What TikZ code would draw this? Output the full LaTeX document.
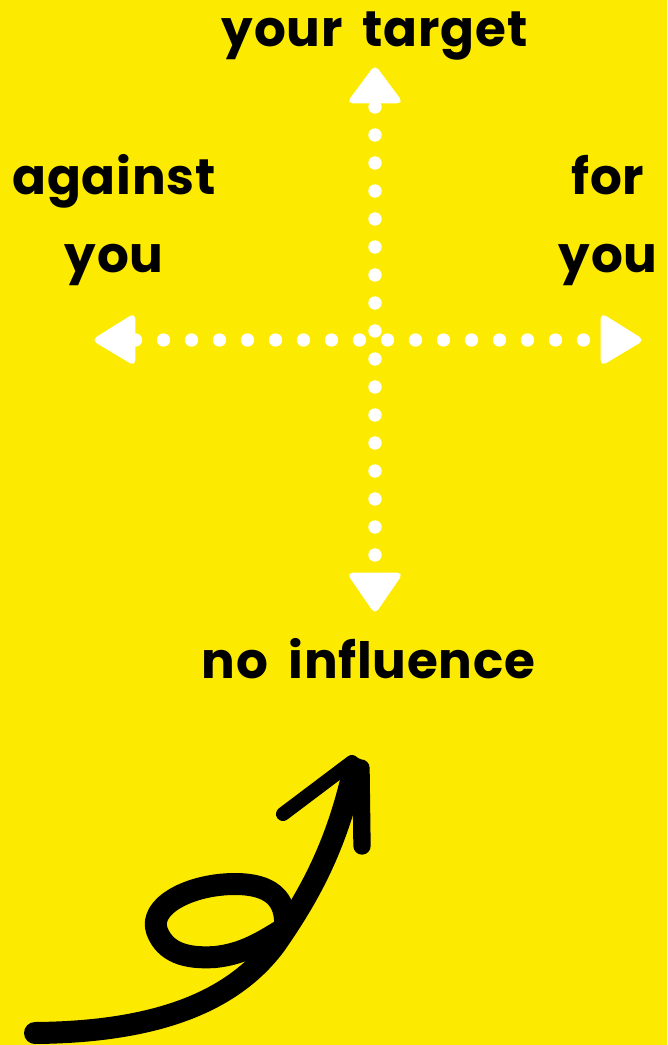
\documentclass[tikz,border=0pt]{standalone}
\usepackage{fontspec}
\setmainfont{Poppins}[WordSpace=1.8, Ligatures=NoCommon, LetterSpace=1.5]
\definecolor{bgyellow}{HTML}{FCEA00}
\tikzset{
  lbl/.style={anchor=base, font=\fontsize{37.5}{40}\selectfont\bfseries, text=black, inner sep=0pt},
  dotline/.style={white, line width=10pt, line cap=round, dash pattern=on 0pt off 21pt},
  headtri/.style={fill=white, draw=white, line width=2pt, rounded corners=3pt},
  brush/.style={black, line width=16.5pt, line cap=round, line join=round},
}
\begin{document}
\begin{tikzpicture}[x=0.75pt, y=-0.75pt]
\fill[bgyellow] (0,0) rectangle (667,1045);
\useasboundingbox (0,0) rectangle (667,1045);

% labels
\node[lbl] (target) at (374.5,47) {your target};
\node[lbl] (against) at (114,195) {against};
\node[lbl] (youL) at (114,272) {you};
\node[lbl] (for) at (608,195) {for};
\node[lbl] (youR) at (608,272) {you};
\node[lbl] (noinf) at (368.5,678) {no influence};

% dotted axes
\coordinate (vtop) at (375,107);
\coordinate (vbot) at (375,555.5);
\coordinate (hleft) at (135.5,340);
\coordinate (hright) at (584,340);
\draw[dotline] (vtop) -- (vbot);
\draw[dotline] (hleft) -- (hright);

% arrowheads
\draw[headtri] (375,67) -- (401,102) -- (349,102) -- cycle;
\draw[headtri] (375,612) -- (349,574) -- (401,574) -- cycle;
\draw[headtri] (94,340) -- (134,315) -- (134,364) -- cycle;
\draw[headtri] (642,340) -- (602,315) -- (602,364) -- cycle;

% hand-drawn swirl arrow
\coordinate (sstart) at (35,1033);
\coordinate (sjoin) at (275,945);
\coordinate (stip) at (354,768);
\draw[brush] (sstart) .. controls (150,1032) and (230,1005) .. (sjoin)
  .. controls (310,895) and (337,845) .. (stip);
\draw[brush] (285,928) .. controls (287,898) and (270,884) .. (235,884)
  .. controls (190,884) and (148,906) .. (157,931)
  .. controls (165,952) and (185,959) .. (215,957)
  .. controls (245,954) and (265,940) .. (285,928);
\draw[black, line width=10.5pt, line cap=round] (283,814) -- (352,762);
\draw[black, line width=13pt, line cap=round] (361,768) -- (362,846);
\end{tikzpicture}
\end{document}
